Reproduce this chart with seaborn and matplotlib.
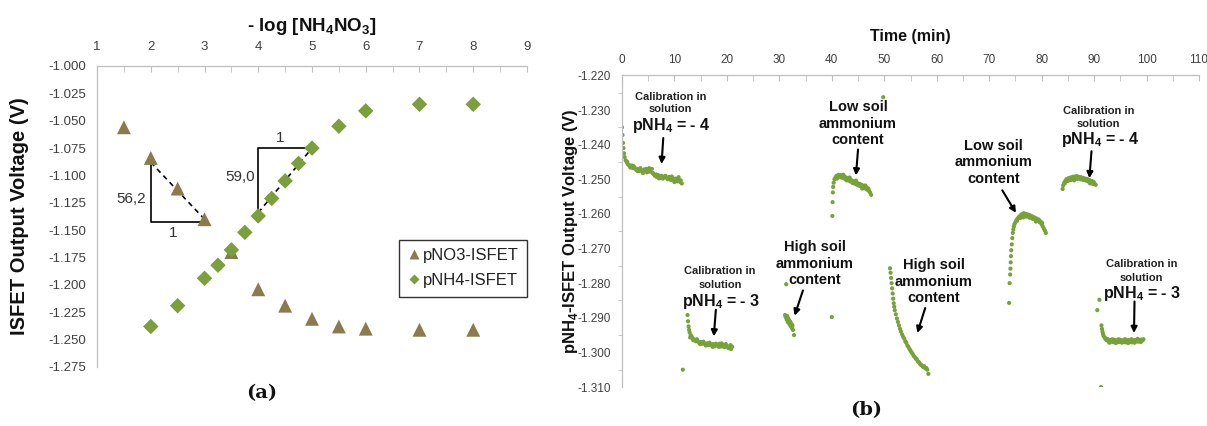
import numpy as np
import pandas as pd
import matplotlib
matplotlib.use("Agg")
import matplotlib.pyplot as plt
import seaborn as sns
from matplotlib.ticker import MultipleLocator, FormatStrFormatter
from matplotlib.lines import Line2D

# ---------------- Data: panel (a) ----------------
series_names = ["pNO3-ISFET", "pNH4-ISFET"]
conc_no3 = [1.5, 2, 2.5, 3, 3.5, 4, 4.5, 5, 5.5, 6, 7, 8]
v_no3 = [-1.056, -1.084, -1.112, -1.140, -1.170, -1.204, -1.219, -1.231,
         -1.238, -1.240, -1.241, -1.241]
conc_nh4 = [2, 2.5, 3, 3.25, 3.5, 3.75, 4, 4.25, 4.5, 4.75, 5, 5.5, 6, 7, 8]
v_nh4 = [-1.238, -1.219, -1.194, -1.182, -1.168, -1.152, -1.137, -1.121,
         -1.105, -1.089, -1.075, -1.055, -1.041, -1.035, -1.035]
x_ticks_a = [1, 2, 3, 4, 5, 6, 7, 8, 9]

# ---------------- Data: panel (b) ----------------
t_cal4a = [0.0, 0.1, 0.2, 0.3, 0.4, 0.5, 0.7, 0.9, 1.1, 1.3, 1.5, 1.8, 2.1, 2.4, 2.7,
           3.0, 3.3, 3.6, 3.9, 4.2, 4.5, 4.8, 5.1, 5.4, 5.7, 6.0, 6.3, 6.6, 6.9, 7.2,
           7.5, 7.8, 8.1, 8.4, 8.7, 9.0, 9.3, 9.6, 9.9, 10.2, 10.5, 10.8, 11.1, 11.4,
           1.0, 1.6, 2.2, 2.9, 3.5, 4.0, 4.6, 5.2, 5.9, 6.5, 7.0, 7.6, 8.3, 8.9, 9.5, 10.0, 10.7, 11.2]
v_cal4a = [-1.2350, -1.2372, -1.2395, -1.2410, -1.2425, -1.2436, -1.2445, -1.2450, -1.2456,
           -1.2459, -1.2462, -1.2460, -1.2468, -1.2466, -1.2472, -1.2470, -1.2476, -1.2474,
           -1.2479, -1.2472, -1.2475, -1.2480, -1.2471, -1.2478, -1.2470, -1.2485, -1.2490,
           -1.2493, -1.2488, -1.2496, -1.2490, -1.2498, -1.2492, -1.2495, -1.2500, -1.2493,
           -1.2502, -1.2496, -1.2504, -1.2498, -1.2506, -1.2494, -1.2508, -1.2512,
           -1.2450, -1.2466, -1.2462, -1.2476, -1.2468, -1.2482, -1.2470, -1.2468, -1.2482,
           -1.2486, -1.2497, -1.2494, -1.2490, -1.2497, -1.2492, -1.2508, -1.2500, -1.2503]

t_cal3a = [11.6, 12.5, 12.6, 12.7, 12.8, 12.9, 13.1, 13.3, 13.5, 13.8, 14.1, 14.4, 14.7,
           15.0, 15.3, 15.6, 15.9, 16.2, 16.5, 16.8, 17.1, 17.4, 17.7, 18.0, 18.3, 18.6,
           18.9, 19.2, 19.5, 19.8, 20.1, 20.4, 20.7, 21.0,
           13.0, 13.6, 14.3, 14.9, 15.5, 16.0, 16.7, 17.3, 17.9, 18.5, 19.0, 19.6, 20.2, 20.8]
v_cal3a = [-1.3050, -1.2892, -1.2910, -1.2925, -1.2935, -1.2942, -1.2950, -1.2955, -1.2960,
           -1.2963, -1.2968, -1.2966, -1.2972, -1.2970, -1.2975, -1.2972, -1.2978, -1.2974,
           -1.2979, -1.2975, -1.2980, -1.2976, -1.2982, -1.2977, -1.2981, -1.2975, -1.2983,
           -1.2978, -1.2985, -1.2976, -1.2982, -1.2988, -1.2979, -1.2984,
           -1.2957, -1.2965, -1.2962, -1.2976, -1.2969, -1.2980, -1.2972, -1.2984, -1.2975,
           -1.2984, -1.2974, -1.2981, -1.2986, -1.2990]

t_high1 = [31.1, 31.2, 31.3, 31.4, 31.5, 31.6, 31.7, 31.8, 31.9, 32.0, 32.1, 32.2, 32.3,
           32.4, 32.5, 32.6, 32.8]
v_high1 = [-1.2892, -1.2898, -1.2803, -1.2905, -1.2895, -1.2912, -1.2902, -1.2915, -1.2908,
           -1.2920, -1.2912, -1.2925, -1.2918, -1.2930, -1.2922, -1.2935, -1.2950]

t_low1 = [40.0, 40.1, 40.15, 40.2, 40.25, 40.35, 40.5, 40.7, 40.9, 41.1, 41.3, 41.5, 41.7,
          41.9, 42.1, 42.3, 42.5, 42.7, 42.9, 43.1, 43.3, 43.5, 43.7, 43.9, 44.1, 44.3,
          44.5, 44.7, 44.9, 45.1, 45.3, 45.5, 45.7, 45.9, 46.1, 46.3, 46.5, 46.7, 46.9,
          47.1, 47.3, 47.5, 49.8,
          41.0, 41.6, 42.2, 42.8, 43.4, 44.0, 44.6, 45.2, 45.8, 46.4, 47.0]
v_low1 = [-1.2898, -1.2606, -1.2566, -1.2538, -1.2522, -1.2510, -1.2500, -1.2495, -1.2490,
          -1.2493, -1.2487, -1.2492, -1.2488, -1.2495, -1.2490, -1.2497, -1.2493, -1.2500,
          -1.2496, -1.2503, -1.2499, -1.2506, -1.2502, -1.2509, -1.2505, -1.2512, -1.2508,
          -1.2515, -1.2511, -1.2518, -1.2513, -1.2520, -1.2516, -1.2523, -1.2519, -1.2526,
          -1.2522, -1.2530, -1.2526, -1.2534, -1.2538, -1.2545, -1.2263,
          -1.2498, -1.2494, -1.2487, -1.2503, -1.2495, -1.2511, -1.2504, -1.2514, -1.2527,
          -1.2518, -1.2529]

t_high2 = [51.1, 51.2, 51.3, 51.4, 51.5, 51.6, 51.7, 51.8, 51.9, 52.0, 52.2, 52.4, 52.6,
           52.8, 53.0, 53.2, 53.4, 53.6, 53.8, 54.0, 54.2, 54.4, 54.6, 54.8, 55.0, 55.2,
           55.4, 55.6, 55.8, 56.0, 56.2, 56.4, 56.6, 56.8, 57.0, 57.2, 57.4, 57.6, 57.8,
           58.0, 58.2, 58.4]
v_high2 = [-1.2757, -1.2770, -1.2785, -1.2800, -1.2815, -1.2830, -1.2845, -1.2858, -1.2868,
           -1.2878, -1.2890, -1.2902, -1.2912, -1.2922, -1.2932, -1.2940, -1.2948, -1.2955,
           -1.2960, -1.2968, -1.2972, -1.2980, -1.2984, -1.2990, -1.2995, -1.3000, -1.3004,
           -1.3010, -1.3013, -1.3018, -1.3020, -1.3026, -1.3028, -1.3033, -1.3036, -1.3038,
           -1.3042, -1.3040, -1.3046, -1.3045, -1.3050, -1.3062]

t_low2 = [73.8, 73.9, 74.0, 74.05, 74.1, 74.15, 74.2, 74.3, 74.4, 74.5, 74.6, 74.7, 74.8,
          75.0, 75.2, 75.4, 75.6, 75.8, 76.0, 76.2, 76.4, 76.6, 76.8, 77.0, 77.2, 77.4,
          77.6, 77.8, 78.0, 78.2, 78.4, 78.6, 78.8, 79.0, 79.2, 79.4, 79.6, 79.8, 80.0,
          80.2, 80.4, 80.6, 80.8,
          75.3, 75.9, 76.5, 77.1, 77.7, 78.3, 78.9, 79.5, 80.1]
v_low2 = [-1.2857, -1.2800, -1.2775, -1.2758, -1.2740, -1.2722, -1.2705, -1.2688, -1.2670,
          -1.2655, -1.2645, -1.2637, -1.2630, -1.2624, -1.2618, -1.2614, -1.2610, -1.2607,
          -1.2604, -1.2601, -1.2606, -1.2598, -1.2604, -1.2600, -1.2606, -1.2602, -1.2608,
          -1.2604, -1.2611, -1.2607, -1.2614, -1.2610, -1.2617, -1.2613, -1.2620, -1.2616,
          -1.2624, -1.2622, -1.2630, -1.2636, -1.2642, -1.2648, -1.2655,
          -1.2620, -1.2612, -1.2610, -1.2608, -1.2611, -1.2614, -1.2622, -1.2620, -1.2626]

t_cal4b = [84.0, 84.1, 84.3, 84.5, 84.7, 84.9, 85.1, 85.3, 85.5, 85.7, 85.9, 86.1, 86.3,
           86.5, 86.7, 86.9, 87.1, 87.3, 87.5, 87.7, 87.9, 88.1, 88.3, 88.5, 88.7, 88.9,
           89.1, 89.3, 89.5, 89.7, 89.9, 90.1, 90.3,
           84.4, 85.0, 85.6, 86.2, 86.8, 87.4, 88.0, 88.6, 89.2, 89.8]
v_cal4b = [-1.2528, -1.2518, -1.2510, -1.2505, -1.2500, -1.2503, -1.2497, -1.2501, -1.2495,
           -1.2499, -1.2493, -1.2498, -1.2492, -1.2497, -1.2491, -1.2496, -1.2493, -1.2498,
           -1.2494, -1.2500, -1.2496, -1.2502, -1.2498, -1.2504, -1.2500, -1.2506, -1.2502,
           -1.2508, -1.2505, -1.2511, -1.2507, -1.2513, -1.2516,
           -1.2512, -1.2505, -1.2502, -1.2503, -1.2499, -1.2500, -1.2502, -1.2499, -1.2512,
           -1.2514]

t_cal3b = [90.6, 91.0, 91.3, 91.4, 91.5, 91.6, 91.7, 91.8, 92.0, 92.2, 92.4, 92.6, 92.8,
           93.0, 93.2, 93.4, 93.6, 93.8, 94.0, 94.2, 94.4, 94.6, 94.8, 95.0, 95.2, 95.4,
           95.6, 95.8, 96.0, 96.2, 96.4, 96.6, 96.8, 97.0, 97.2, 97.4, 97.6, 97.8, 98.0,
           98.2, 98.4, 98.6, 98.8, 99.0, 99.2, 99.4,
           92.3, 92.9, 93.5, 94.1, 94.7, 95.3, 95.9, 96.5, 97.1, 97.7, 98.3, 98.9]
v_cal3b = [-1.2878, -1.2848, -1.3100, -1.2922, -1.2932, -1.2940, -1.2947, -1.2952, -1.2957,
           -1.2962, -1.2965, -1.2962, -1.2968, -1.2964, -1.2969, -1.2965, -1.2970, -1.2964,
           -1.2969, -1.2965, -1.2971, -1.2966, -1.2970, -1.2964, -1.2969, -1.2965, -1.2970,
           -1.2966, -1.2971, -1.2965, -1.2969, -1.2964, -1.2970, -1.2966, -1.2971, -1.2965,
           -1.2969, -1.2964, -1.2968, -1.2965, -1.2969, -1.2964, -1.2967, -1.2963, -1.2966,
           -1.2962,
           -1.2960, -1.2972, -1.2962, -1.2973, -1.2962, -1.2972, -1.2962, -1.2973, -1.2962,
           -1.2972, -1.2961, -1.2970]

# ---------------- Style ----------------
sns.set_style("white")
plt.rcParams["font.family"] = ["Liberation Sans", "DejaVu Sans"]
plt.rcParams["mathtext.fontset"] = "custom"
plt.rcParams["mathtext.rm"] = "Liberation Sans"
plt.rcParams["mathtext.bf"] = "Liberation Sans:bold"

C_NO3 = "#8B7B4C"
C_NH4 = "#79A03B"
C_PTS = "#77A23A"
AXC = "#BFBFBF"
TXC = "#404040"

fig = plt.figure(figsize=(12.07, 4.26), dpi=100)
ax1 = fig.add_axes([0.0804, 0.1385, 0.3562, 0.7066])
ax2 = fig.add_axes([0.5153, 0.0915, 0.4781, 0.7315])


def style_axes(ax):
    ax.xaxis.tick_top()
    ax.xaxis.set_label_position("top")
    for s in ["right", "bottom"]:
        ax.spines[s].set_visible(False)
    for s in ["left", "top"]:
        ax.spines[s].set_color(AXC)
        ax.spines[s].set_linewidth(0.9)
    ax.grid(False)


# ---------------- Panel (a) ----------------
df_no3 = pd.DataFrame({"x": conc_no3, "v": v_no3, "series": series_names[0]})
df_nh4 = pd.DataFrame({"x": conc_nh4, "v": v_nh4, "series": series_names[1]})
sns.scatterplot(data=df_no3, x="x", y="v", marker="^", s=100, color=C_NO3,
                edgecolor="none", linewidth=0, ax=ax1, legend=False, zorder=3)
sns.scatterplot(data=df_nh4, x="x", y="v", marker="D", s=62, color=C_NH4,
                edgecolor="none", linewidth=0, ax=ax1, legend=False, zorder=4)

style_axes(ax1)
ax1.set_xlim(1, 9)
ax1.set_ylim(-1.275, -1.000)
ax1.set_xticks(x_ticks_a)
ax1.xaxis.set_minor_locator(MultipleLocator(0.5))
ax1.yaxis.set_major_locator(MultipleLocator(0.025))
ax1.yaxis.set_major_formatter(FormatStrFormatter("%.3f"))
ax1.tick_params(axis="x", which="both", direction="in", length=4, color=AXC,
                labelsize=9.5, labelcolor=TXC, pad=9, top=True, bottom=False)
ax1.tick_params(axis="y", which="major", direction="out", length=7, color=AXC,
                labelsize=9.5, labelcolor=TXC, pad=1)
ax1.set_xlabel(r"- log [NH$_\mathbf{4}$NO$_\mathbf{3}$]", fontsize=13.5,
               fontweight="bold", color="#111111")
ax1.xaxis.set_label_coords(0.5, 1.115)
ax1.set_ylabel("ISFET Output Voltage (V)", fontsize=14.5, fontweight="bold",
               color="#111111")
ax1.yaxis.set_label_coords(-0.158, 0.5)

# slope triangles
ax1.plot([2, 2, 2.95], [-1.0905, -1.1422, -1.1422], color="black", lw=1.2, zorder=2)
ax1.plot([2, 3], [-1.088, -1.140], color="black", lw=1.2, ls=(0, (3, 2.5)), zorder=2)
ax1.text(1.63, -1.1215, "56,2", fontsize=11, color="#333333", ha="center", va="center")
ax1.text(2.42, -1.1529, "1", fontsize=11, color="#333333", ha="center", va="center")
ax1.plot([4, 4, 4.96], [-1.1331, -1.0752, -1.0752], color="black", lw=1.2, zorder=2)
ax1.plot([4, 5], [-1.134, -1.075], color="black", lw=1.2, ls=(0, (3, 2.5)), zorder=2)
ax1.text(4.40, -1.0661, "1", fontsize=11, color="#333333", ha="center", va="center")
ax1.text(3.66, -1.1011, "59,0", fontsize=11, color="#333333", ha="center", va="center")

handles = [Line2D([], [], ls="none", marker="^", markersize=7.5, color=C_NO3, mec="none"),
           Line2D([], [], ls="none", marker="D", markersize=5.5, color=C_NH4, mec="none")]
leg = ax1.legend(handles, series_names, loc="upper right", bbox_to_anchor=(1.0, 0.422),
                 borderaxespad=0, fancybox=False, framealpha=1, edgecolor="#333333",
                 fontsize=12, handlelength=0.7, handletextpad=0.2, labelspacing=0.6,
                 borderpad=0.5)
leg.get_frame().set_linewidth(1.0)
for t in leg.get_texts():
    t.set_color("#222222")

# ---------------- Panel (b) ----------------
segs = [(t_cal4a, v_cal4a), (t_cal3a, v_cal3a), (t_high1, v_high1), (t_low1, v_low1),
        (t_high2, v_high2), (t_low2, v_low2), (t_cal4b, v_cal4b), (t_cal3b, v_cal3b)]
df_b = pd.concat([pd.DataFrame({"t": t, "v": v}) for t, v in segs], ignore_index=True)
sns.scatterplot(data=df_b, x="t", y="v", s=9, color=C_PTS, edgecolor="none",
                linewidth=0, ax=ax2, legend=False)

style_axes(ax2)
ax2.set_xlim(0, 110)
ax2.set_ylim(-1.310, -1.220)
ax2.xaxis.set_major_locator(MultipleLocator(10))
ax2.xaxis.set_minor_locator(MultipleLocator(5))
ax2.yaxis.set_major_locator(MultipleLocator(0.010))
ax2.yaxis.set_minor_locator(MultipleLocator(0.005))
ax2.yaxis.set_major_formatter(FormatStrFormatter("%.3f"))
ax2.tick_params(axis="x", which="both", direction="in", length=4, color=AXC,
                labelsize=8.5, labelcolor=TXC, pad=7, top=True, bottom=False)
ax2.tick_params(axis="y", which="major", direction="out", length=6, color=AXC,
                labelsize=8.5, labelcolor=TXC, pad=2)
ax2.tick_params(axis="y", which="minor", direction="out", length=3, color=AXC, left=True)
ax2.set_xlabel("Time (min)", fontsize=11.5, fontweight="bold", color="#111111")
ax2.xaxis.set_label_coords(0.5, 1.11)
ax2.set_ylabel(r"pNH$_\mathbf{4}$-ISFET Output Voltage (V)", fontsize=12,
               fontweight="bold", color="#111111")
ax2.yaxis.set_label_coords(-0.073, 0.5)


def small(x, y, s):
    ax2.text(x, y, s, fontsize=8, fontweight="bold", color="#222222", ha="center", va="center")


def big(x, y, s, size=11.5):
    ax2.text(x, y, s, fontsize=size, fontweight="bold", color="#111111", ha="center", va="center")


def arrow(x0, y0, x1, y1):
    ax2.annotate("", xy=(x1, y1), xytext=(x0, y0),
                 arrowprops=dict(arrowstyle="-|>", color="black", lw=1.5,
                                 mutation_scale=9, shrinkA=0, shrinkB=0))


# calibration pNH4 = -4 (first)
small(9.28, -1.2261, "Calibration in")
small(9.28, -1.2297, "solution")
big(9.4, -1.2345, r"pNH$_\mathbf{4}$ = - 4")
arrow(7.87, -1.2381, 7.55, -1.2456)
# low soil 1
for yy, s in zip([-1.2292, -1.2340, -1.2386], ["Low soil", "ammonium", "content"]):
    big(45.0, yy, s, 10.5)
arrow(45.0, -1.2414, 44.6, -1.2489)
# calibration pNH4 = -4 (second)
small(90.9, -1.2303, "Calibration in")
small(90.9, -1.2341, "solution")
big(91.1, -1.2386, r"pNH$_\mathbf{4}$ = - 4")
arrow(89.5, -1.2419, 89.1, -1.2497)
# low soil 2
for yy, s in zip([-1.2403, -1.2451, -1.2498], ["Low soil", "ammonium", "content"]):
    big(70.8, yy, s, 10.5)
arrow(72.5, -1.2532, 75.1, -1.2597)
# calibration pNH4 = -3 (first)
small(18.7, -1.2766, "Calibration in")
small(18.7, -1.2805, "solution")
big(18.9, -1.2853, r"pNH$_\mathbf{4}$ = - 3")
arrow(17.9, -1.2877, 17.5, -1.2954)
# high soil 1
for yy, s in zip([-1.2696, -1.2744, -1.2790], ["High soil", "ammonium", "content"]):
    big(36.8, yy, s, 10.5)
arrow(34.5, -1.2821, 32.9, -1.2894)
# high soil 2
for yy, s in zip([-1.2749, -1.2797, -1.2843], ["High soil", "ammonium", "content"]):
    big(59.4, yy, s, 10.5)
arrow(57.8, -1.2872, 56.3, -1.2944)
# calibration pNH4 = -3 (second)
small(99.1, -1.2745, "Calibration in")
small(99.1, -1.2784, "solution")
big(99.1, -1.2831, r"pNH$_\mathbf{4}$ = - 3")
arrow(97.7, -1.2853, 97.6, -1.2944)

# panel letters
fig.text(0.217, 0.0775, "(a)", fontsize=14, fontweight="bold", family="DejaVu Serif",
         ha="center", va="center", color="#111111")
fig.text(0.7175, 0.0376, "(b)", fontsize=14, fontweight="bold", family="DejaVu Serif",
         ha="center", va="center", color="#111111")

fig.savefig("out.png", dpi=100)
